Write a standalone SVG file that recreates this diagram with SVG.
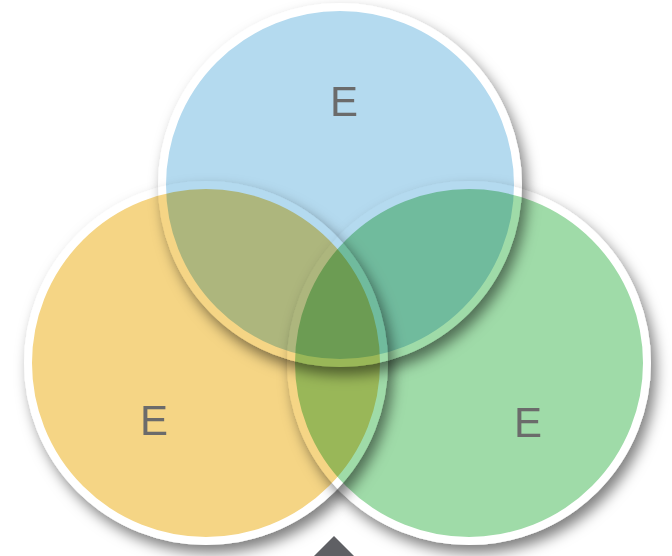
<svg xmlns="http://www.w3.org/2000/svg" width="672" height="556" viewBox="0 0 672 556">
  <defs>
    <filter id="shadow" x="-20%" y="-20%" width="140%" height="140%">
      <feDropShadow dx="5" dy="8" stdDeviation="7" flood-color="#000" flood-opacity="0.5"/>
    </filter>
  </defs>
  <style>
    .circle { mix-blend-mode: multiply; }
    .ring { stroke: #ffffff; stroke-width: 8; }
    .label { font-family: "Liberation Sans", Arial, sans-serif; font-size: 42px; fill: #6b6b6b; text-anchor: middle; }
  </style>
  <rect x="0" y="0" width="672" height="556" fill="#ffffff"/>
  <g id="venn">
    <g id="node-yellow" class="circle" filter="url(#shadow)">
      <circle class="ring" cx="206" cy="363" r="178" fill="#f5d585"/>
    </g>
    <g id="node-green" class="circle" filter="url(#shadow)">
      <circle class="ring" cx="469" cy="363" r="178" fill="#9fdba8"/>
    </g>
    <g id="node-blue" class="circle" filter="url(#shadow)">
      <circle class="ring" cx="340" cy="185" r="178" fill="#b4daef"/>
    </g>
  </g>
  <g id="labels">
    <text class="label" x="344" y="116">E</text>
    <text class="label" x="154" y="435">E</text>
    <text class="label" x="528" y="437">E</text>
  </g>
  <g id="connectors">
    <polygon points="334,536 354,556 314,556" fill="#5f6064"/>
  </g>
</svg>
